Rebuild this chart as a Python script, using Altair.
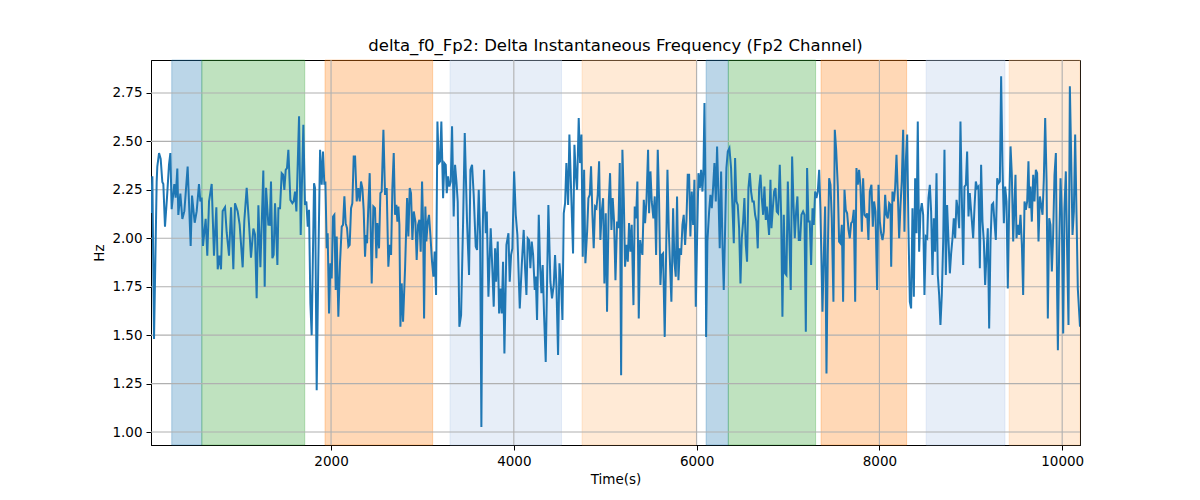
import altair as alt
import pandas as pd

# ---- data (time in s, value in Hz) ----
seg1 = [(30,2.13),(45,2.32),(63,1.48),(92,2.29),(99,2.37),(118,2.44),(136,2.41),(154,2.29),(165,2.28),(183,2.06),
        (205,2.21),(227,2.38),(242,2.44),(256,2.15),(285,2.28),(300,2.21),(318,2.36),(329,2.12),(351,2.23),(373,2.10),
        (395,2.14),(431,2.37),(464,1.96),(479,2.22),(508,2.08),(530,2.14),(555,2.28),(570,2.19),(584,2.21),(599,1.96),
        (628,2.10),(646,1.91),(665,2.19),(694,2.28),(719,1.91),(745,2.16),(760,1.84),(778,1.91),(796,1.84),(814,2.14),
        (840,2.16),(858,2.03),(884,1.91),(906,2.16),(931,1.84),(949,2.18),(978,2.14),(1000,2.07),(1033,1.85),(1051,2.09),
        (1077,2.26),(1103,2.07),(1124,1.90),(1150,2.05),(1168,2.02),(1186,1.69),(1205,2.17),(1227,1.85),(1259,2.35),(1274,1.75),
        (1289,2.26),(1314,2.07)]
seg2 = [(1329,2.069),(1343,2.293),(1358,1.897),(1372,1.914),(1387,2.181),(1398,2.052),(1413,1.862),(1424,2.155),(1442,2.155),
        (1460,2.336),(1475,2.328),(1489,2.25),(1504,2.353),(1518,2.362),(1533,2.457),(1555,2.198),(1577,2.181),(1591,2.19),
        (1606,2.241),(1621,2.138),(1650,2.63),(1668,2.017),(1697,2.586),(1715,2.172),(1730,2.19),(1745,2.06),(1759,2.147),
        (1774,1.664),(1788,1.50),(1814,2.284),(1825,2.259),(1843,1.216),(1861,1.88),(1880,2.457),(1898,2.276),(1912,2.448),
        (1927,2.276),(1938,2.293),(1953,1.948),(1963,2.026),(1978,1.612),(1993,1.871),(2007,1.793),(2022,2.112),(2036,2.121),
        (2051,1.733),(2062,2.009),(2080,1.595),(2098,1.871),(2117,2.06),(2131,2.069),(2146,2.216),(2160,2.078),(2175,2.052),
        (2190,1.957),(2204,1.966),(2219,2.155),(2233,2.181),(2248,2.422),(2263,2.422),(2281,2.19),(2299,2.259),(2314,2.19),
        (2328,2.293),(2343,2.259),(2357,2.147),(2372,1.905),(2383,2.017),(2394,1.974),(2408,2.164),(2423,2.336),(2445,1.767),
        (2463,2.164),(2481,2.155),(2496,1.897),(2507,2.078),(2525,1.948),(2540,2.233),(2554,2.241),(2573,2.56),(2591,2.224),
        (2609,2.259),(2627,1.853)]
seg3 = [(2642,1.966),(2657,1.914),(2671,2.259),(2686,2.44),(2700,2.121),(2715,2.172),(2726,2.086),(2737,2.164),(2748,2.069),
        (2759,1.543),(2773,1.767),(2788,1.569),(2810,1.845),(2832,2.207),(2846,2.009),(2861,2.259),(2875,2.233),(2890,1.991),
        (2905,2.138),(2923,2.086),(2937,1.888),(2952,2.069),(2967,2.095),(2981,1.931),(2996,2.293),(3007,2.078),(3018,1.586),
        (3032,2.164),(3043,1.983),(3058,2.086),(3072,2.121),(3087,2.017),(3105,1.879),(3120,1.802),(3134,1.931),(3149,1.707),
        (3164,2.603),(3178,2.388),(3193,2.397),(3207,2.603),(3226,2.207),(3240,2.388),(3255,2.379),(3266,2.233),(3280,2.319),
        (3295,2.267),(3310,2.293),(3324,2.578),(3342,2.112),(3357,2.379),(3372,2.293),(3386,2.19),(3404,1.543),(3423,1.603),
        (3445,2.086),(3463,2.543),(3488,2.086),(3510,1.81),(3525,2.353),(3543,2.379),(3561,2.224),(3583,1.957),(3598,1.94),
        (3616,2.25),(3631,2.017),(3645,1.026),(3660,2.052),(3674,2.353),(3693,2.026),(3704,2.138),(3722,1.698),(3747,2.052),
        (3766,1.828),(3780,1.647),(3795,1.948),(3806,1.776),(3824,1.983),(3839,1.612),(3853,1.741),(3868,1.612),(3882,1.879),
        (3897,1.405),(3919,1.966),(3941,2.026)]
seg4 = [(3955,1.776),(3970,1.914),(3984,1.948),(4003,2.345),(4021,2.121),(4039,2.017),(4065,1.638),(4087,1.862),(4108,2.043),
        (4123,1.845),(4138,1.707),(4152,2.0),(4167,1.991),(4181,1.845),(4196,1.983),(4211,1.914),(4229,1.733),(4240,1.802),
        (4254,1.578),(4273,2.121),(4287,1.862),(4302,1.716),(4316,1.862),(4331,1.603),(4349,1.362),(4378,2.172),(4400,1.776),
        (4418,1.69),(4437,1.759),(4451,1.914),(4466,1.759),(4484,1.397),(4499,1.871),(4517,1.776),(4532,1.578),(4546,2.129),
        (4561,2.181),(4575,2.388),(4594,2.172),(4608,2.535),(4626,2.259),(4648,1.922),(4663,2.483),(4678,2.328),(4692,2.25),
        (4710,2.621),(4725,2.388),(4740,2.535),(4754,1.905),(4769,2.353),(4783,1.871),(4802,2.034),(4816,2.207),(4831,2.224),
        (4845,2.371),(4860,2.121),(4874,1.948),(4889,2.164),(4904,2.155),(4918,2.224),(4933,2.397),(4947,1.991),(4962,2.138),
        (4977,2.207),(4991,1.767),(5006,2.129),(5020,1.621),(5039,2.19),(5053,2.336),(5068,2.043),(5082,2.207),(5097,2.086),
        (5112,1.784),(5130,2.086),(5144,2.052),(5159,2.388),(5174,1.293),(5188,2.457),(5203,2.207),(5217,1.853),(5232,1.966),
        (5247,1.879),(5261,2.078)]
seg5 = [(5276,1.931),(5290,2.069),(5309,1.655),(5323,2.164),(5338,2.103),(5352,2.293),(5367,1.586),(5382,1.991),(5393,1.948),
        (5407,1.914),(5422,2.198),(5436,2.078),(5451,2.19),(5469,2.457),(5480,2.129),(5495,2.345),(5509,2.19),(5527,2.103),
        (5542,2.216),(5557,1.914),(5575,2.457),(5589,2.207),(5604,1.759),(5619,1.914),(5633,1.922),(5651,1.491),(5666,1.914),
        (5681,2.353),(5695,2.052),(5710,1.853),(5724,1.672),(5743,2.155),(5757,1.879),(5772,1.802),(5786,2.216),(5801,1.784),
        (5816,1.948),(5830,1.914),(5845,2.069),(5859,2.121),(5874,1.966),(5889,2.095),(5903,2.328),(5918,2.328),(5932,2.009),
        (5947,2.241),(5962,2.069),(5976,2.302),(5991,1.647),(6005,1.991),(6020,2.336),(6035,2.259),(6049,2.353),(6064,2.241),
        (6075,2.353),(6086,2.698),(6097,2.241),(6104,1.491),(6118,1.983),(6137,2.138),(6151,2.224),(6166,2.155),(6180,2.259),
        (6195,2.388),(6210,2.19),(6224,2.474),(6239,2.224),(6253,1.948),(6268,2.345),(6283,1.966),(6297,1.733),(6312,2.052),
        (6326,2.362),(6341,2.448),(6359,2.466),(6377,2.362),(6392,2.164),(6407,1.974),(6421,2.414),(6436,2.19),(6450,2.172),
        (6465,2.052),(6480,1.767),(6494,2.0),(6509,2.086),(6523,2.207),(6538,1.966),(6552,1.879),(6567,2.259)]
seg6 = [(6582,2.336),(6596,2.241),(6611,2.19),(6626,2.19),(6640,2.121),(6655,2.086),(6669,1.948),(6684,2.259),(6699,2.328),
        (6713,2.207),(6728,2.121),(6742,2.267),(6757,2.095),(6768,2.164),(6779,2.103),(6793,2.017),(6808,2.302),(6819,2.052),
        (6834,2.155),(6848,2.241),(6863,2.259),(6877,2.138),(6892,2.129),(6910,2.379),(6925,2.121),(6939,1.595),(6954,2.121),
        (6968,1.819),(6983,1.81),(6998,2.293),(7016,1.983),(7030,1.733),(7045,2.422),(7060,2.181),(7074,2.0),(7089,2.138),
        (7103,2.216),(7118,1.991),(7133,1.991),(7147,2.121),(7165,2.138),(7180,2.121),(7195,1.517),(7209,2.362),(7224,2.086),
        (7238,2.086),(7253,1.862),(7268,2.155),(7282,2.069),(7297,2.241),(7311,2.207),(7326,2.241),(7341,2.353),(7355,2.147),
        (7377,1.621),(7392,1.914),(7406,2.164),(7421,1.302),(7435,1.914),(7450,2.31),(7465,2.276),(7479,2.103),(7497,1.672),
        (7512,2.56),(7527,2.457),(7545,2.267),(7559,1.983),(7574,1.974),(7589,2.069),(7603,1.672),(7618,2.25),(7632,2.147),
        (7647,2.129),(7662,2.043),(7676,2.0),(7691,2.078),(7705,2.086),(7720,2.147),(7735,1.672),(7749,2.362),(7764,2.276),
        (7778,2.353),(7793,2.267),(7808,2.034),(7822,2.31),(7837,2.121),(7851,2.112),(7866,2.129),(7880,1.991),(7895,2.241)]
seg7 = [(7913,2.276),(7928,2.06),(7942,2.19),(7957,2.138),(7975,1.733),(7990,2.276),(8005,2.086),(8019,2.026),(8034,1.991),
        (8048,2.034),(8063,2.224),(8077,2.121),(8092,2.103),(8107,2.181),(8121,2.172),(8129,1.853),(8143,2.241),(8158,2.19),
        (8172,2.259),(8187,2.431),(8202,2.224),(8216,2.0),(8231,2.172),(8245,2.293),(8260,2.56),(8274,2.034),(8289,2.397),
        (8304,2.535),(8318,2.052),(8333,1.672),(8347,1.638),(8362,2.155),(8377,1.698),(8391,2.31),(8406,2.026),(8420,2.603),
        (8435,1.931),(8450,2.138),(8464,2.181),(8479,2.121),(8493,1.707),(8508,2.009),(8523,2.0),(8537,2.207),(8552,2.276),
        (8566,2.138),(8581,1.81),(8595,2.103),(8610,1.931),(8625,2.336),(8639,1.81),(8654,1.707),(8668,1.552),(8683,1.707),
        (8698,1.983),(8712,2.457),(8727,1.81),(8741,2.172),(8756,1.991),(8771,1.819),(8785,1.922),(8800,2.0),(8814,2.103),
        (8829,2.0),(8844,2.198),(8858,2.147),(8873,2.052),(8887,2.603),(8902,2.207),(8917,1.862),(8931,2.267),(8946,2.276),
        (8960,2.448),(8975,2.112),(8989,2.233),(9004,2.138),(9026,2.0),(9041,2.164),(9055,2.293),(9070,2.259),(9084,2.267),
        (9099,1.845),(9113,2.379),(9128,2.086),(9143,1.983),(9157,1.759),(9172,1.914),(9186,2.052),(9201,1.534)]
seg8 = [(9216,1.983),(9230,2.172),(9245,2.181),(9259,2.086),(9274,1.991),(9289,2.31),(9303,2.284),(9318,2.293),(9332,2.836),
        (9347,2.371),(9362,2.078),(9376,2.267),(9391,2.19),(9405,1.741),(9420,2.172),(9435,2.474),(9449,2.328),(9464,1.983),
        (9478,2.172),(9489,2.328),(9500,2.0),(9515,2.069),(9529,2.017),(9544,2.121),(9559,1.966),(9573,1.707),(9588,2.19),
        (9602,2.147),(9617,2.19),(9631,2.397),(9642,2.155),(9653,2.267),(9668,2.086),(9683,2.328),(9697,2.19),(9712,2.353),
        (9726,2.336),(9741,1.983),(9756,2.216),(9770,2.172),(9785,2.121),(9799,2.302),(9814,2.621),(9829,2.302),(9843,1.586),
        (9858,2.103),(9872,2.069),(9887,1.828),(9901,2.017),(9916,2.328),(9931,2.44),(9945,1.707),(9953,1.422),(9967,1.948),
        (9982,2.31),(9996,2.121),(10011,1.509),(10025,2.155),(10040,2.345),(10055,1.914),(10069,1.552),(10084,2.785),
        (10098,2.431),(10113,2.017),(10128,2.138),(10142,2.535),(10157,2.121),(10171,1.741),(10195,1.543)]

span_start = [257, 586, 1934, 3302, 4747, 6104, 6347, 7362, 8512, 9420]
span_end = [586, 1712, 3112, 4522, 5997, 6347, 7302, 8298, 9374, 10195]
span_kind = ["blue", "green", "orange", "lightblue", "lightorange",
             "blue", "green", "orange", "lightblue", "lightorange"]

x_ticks = [2000, 4000, 6000, 8000, 10000]
y_ticks = [1.00, 1.25, 1.50, 1.75, 2.00, 2.25, 2.50, 2.75]

kind_domain = ["blue", "green", "orange", "lightblue", "lightorange"]
kind_colors = ["#1f77b4", "#2ca02c", "#ff7f0e", "#aec7e8", "#ffbb78"]

X_DOMAIN = [30, 10195]
Y_DOMAIN = [0.933, 2.92]

points = seg1 + seg2 + seg3 + seg4 + seg5 + seg6 + seg7 + seg8
line_df = pd.DataFrame(points, columns=["t", "v"])
span_df = pd.DataFrame({"start": span_start, "end": span_end, "kind": span_kind})
xg_df = pd.DataFrame({"x": x_ticks})
yg_df = pd.DataFrame({"y": y_ticks})

FONT = "DejaVu Sans"
xscale = alt.Scale(domain=X_DOMAIN, nice=False, zero=False)
yscale = alt.Scale(domain=Y_DOMAIN, nice=False, zero=False)

spans = alt.Chart(span_df).mark_rect(fillOpacity=0.3, strokeOpacity=0.3, strokeWidth=1).encode(
    x=alt.X("start:Q", scale=xscale, axis=alt.Axis(
        values=x_ticks, format="d", title="Time(s)", grid=False)),
    x2="end:Q",
    y=alt.value(0),
    y2=alt.value(385),
    fill=alt.Fill("kind:N", scale=alt.Scale(domain=kind_domain, range=kind_colors), legend=None),
    stroke=alt.Stroke("kind:N", scale=alt.Scale(domain=kind_domain, range=kind_colors), legend=None),
)

xgrid = alt.Chart(xg_df).mark_rule(color="#b0b0b0", strokeWidth=1.1).encode(
    x=alt.X("x:Q", scale=xscale),
)
ygrid = alt.Chart(yg_df).mark_rule(color="#b0b0b0", strokeWidth=1.1).encode(
    y=alt.Y("y:Q", scale=yscale, axis=alt.Axis(values=y_ticks, format=".2f", title="Hz", grid=False)),
)

line = alt.Chart(line_df).mark_line(color="#1f77b4", strokeWidth=2, clip=True).encode(
    x=alt.X("t:Q", scale=xscale),
    y=alt.Y("v:Q", scale=yscale),
)

chart = alt.layer(spans, xgrid, ygrid, line).properties(
    width=929,
    height=385,
    autosize=alt.AutoSizeParams(type="none"),
    padding={"left": 143, "top": 52, "right": 112, "bottom": 47},
    title=alt.TitleParams(
        "delta_f0_Fp2: Delta Instantaneous Frequency (Fp2 Channel)",
        font=FONT, fontSize=16.5, fontWeight="normal", color="black", offset=5,
    ),
).configure_view(
    stroke="black", strokeWidth=1,
).configure_axis(
    labelFont=FONT, labelFontSize=13.5, labelColor="black",
    titleFont=FONT, titleFontSize=13.5, titleFontWeight="normal", titleColor="black",
    tickColor="black", tickSize=5, tickWidth=1,
    domainColor="black", domainWidth=1,
    labelPadding=4, titlePadding=5,
)

chart.save("out.html", embed_options={"renderer": "svg", "actions": False})
